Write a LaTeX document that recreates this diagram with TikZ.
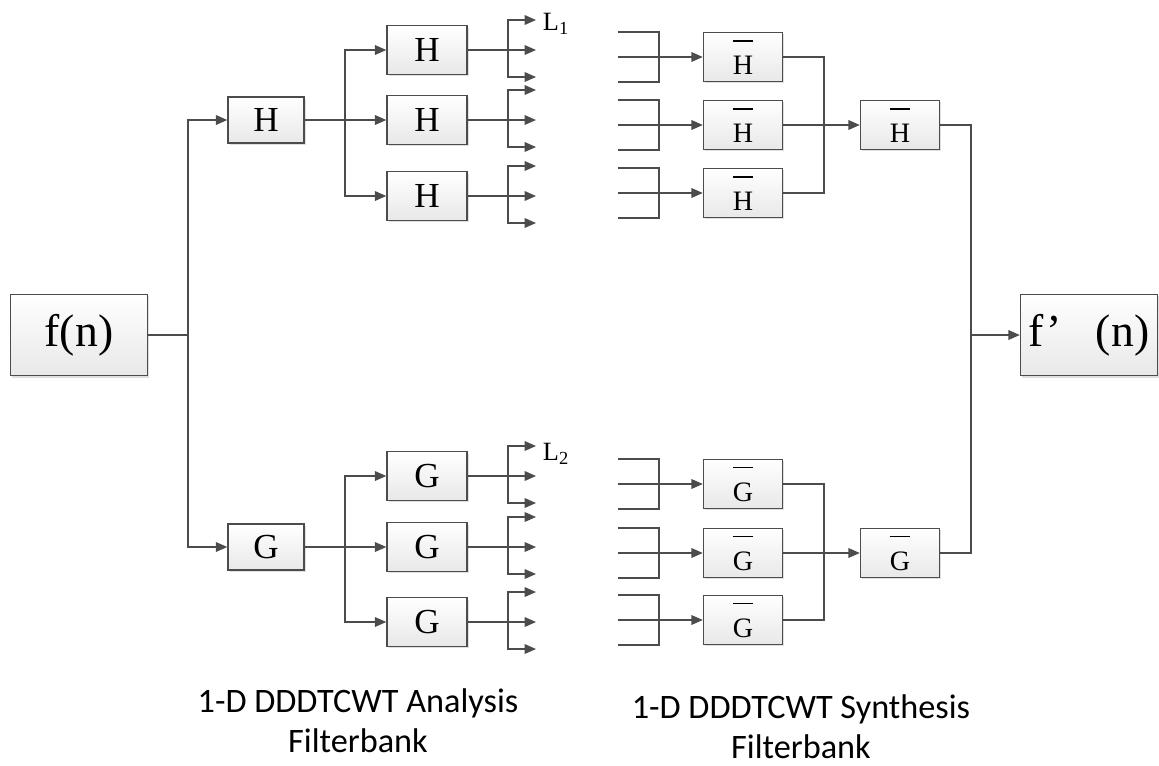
\documentclass[tikz,border=0pt]{standalone}
\usepackage{fontspec}
\setmainfont{Liberation Serif}
\newfontfamily\capfont{Carlito}
\usetikzlibrary{arrows.meta,shadows}
\newsavebox\barbox
\newcommand{\barred}[1]{\sbox\barbox{#1}\vbox{\hrule width\wd\barbox height 0.06em\kern0.5em\copy\barbox}}

\begin{document}
\begin{tikzpicture}[x=0.02cm, y=-0.02cm,
    >={Triangle[length=6.5pt,width=5.5pt]},
    wire/.style={draw=black!70, line width=0.8pt},
    blk/.style={draw=black!70, line width=0.8pt, top color=white, bottom color=black!9,
      drop shadow={shadow xshift=1pt, shadow yshift=-1pt, fill=black!25, opacity=0.5},
      inner sep=0pt, font=\fontsize{20}{20}\selectfont},
    sml/.style={blk, minimum width=1.52cm, minimum height=0.92cm},
    mid/.style={blk, minimum width=1.6cm, minimum height=0.97cm},
    bar/.style={blk, minimum width=1.58cm, minimum height=0.98cm, font=\fontsize{16}{16}\selectfont},
    big/.style={blk, minimum width=2.74cm, minimum height=1.63cm, font=\fontsize{26}{26}\selectfont},
    lbl/.style={font=\fontsize{15}{15}\selectfont},
    captxt/.style={font=\capfont\fontsize{19.5}{23}\selectfont, align=center}]
    \useasboundingbox (0,0) rectangle (1159,765);
    % input and output
    \node[big] (f) at (79,335) {f(n)};
    \node[big] (fp) at (1089,335) {f’\hspace{0.75em}(n)};
    % analysis side
    \node[sml] (h) at (266,120) {H};
    \node[sml] (g) at (266,547) {G};
    \node[mid] (h1) at (427,50) {H};
    \node[mid] (h2) at (427,120) {H};
    \node[mid] (h3) at (427,196) {H};
    \node[mid] (g1) at (427,476) {G};
    \node[mid] (g2) at (427,547) {G};
    \node[mid] (g3) at (427,622) {G};
    % synthesis side
    \node[bar] (hb1) at (743,57) {\barred{H}};
    \node[bar] (hb2) at (743,125) {\barred{H}};
    \node[bar] (hb3) at (743,193) {\barred{H}};
    \node[bar] (hbb) at (900,125) {\barred{H}};
    \node[bar] (gb1) at (743,484) {\barred{G}};
    \node[bar] (gb2) at (743,553) {\barred{G}};
    \node[bar] (gb3) at (743,620) {\barred{G}};
    \node[bar] (gbb) at (900,553) {\barred{G}};
    \node[lbl] (l1) at (556,24) {L\textsubscript{1}};
    \node[lbl] (l2) at (556,454) {L\textsubscript{2}};
    \node[captxt] (ana) at (358,721) {1-D DDDTCWT Analysis\\Filterbank};
    \node[captxt] (syn) at (801,727) {1-D DDDTCWT Synthesis\\Filterbank};
    % junction columns
    \coordinate (splitx) at (188,0);
    \coordinate (hx) at (345,0);
    \coordinate (fanx) at (508,0);
    \coordinate (sumx) at (824,0);
    \coordinate (outx) at (971,0);
    % wires
    \draw[wire] (f.east) -- (f.east -| splitx);
    \draw[wire,->] (f.east -| splitx) |- (h.west);
    \draw[wire,->] (f.east -| splitx) |- (g.west);
    \draw[wire,->] (h.east) -- (h2.west);
    \draw[wire,->] (h2.west -| hx) |- (h1.west);
    \draw[wire,->] (h2.west -| hx) |- (h3.west);
    \draw[wire,->] (g.east) -- (g2.west);
    \draw[wire,->] (g2.west -| hx) |- (g1.west);
    \draw[wire,->] (g2.west -| hx) |- (g3.west);
    \foreach \n in {h1,h2,h3,g1,g2,g3}{
        \coordinate (\n j) at (\n.east -| fanx);
        \path (\n j) ++(28,-30) coordinate (\n a)
              (\n j) ++(28,0) coordinate (\n b)
              (\n j) ++(28,27) coordinate (\n c);
        \draw[wire] (\n.east) -- (\n j);
        \draw[wire,->] (\n j) -- (\n b);
        \draw[wire,->] (\n j) |- (\n a);
        \draw[wire,->] (\n j) |- (\n c);
    }
    \foreach \n in {hb1,hb2,hb3,gb1,gb2,gb3}{
        \path (\n.west) ++(-85,-25) coordinate (\n a)
              (\n.west) ++(-85,0) coordinate (\n b)
              (\n.west) ++(-85,25) coordinate (\n c)
              (\n.west) ++(-44,-25) coordinate (\n p)
              (\n.west) ++(-44,25) coordinate (\n q);
        \draw[wire] (\n a) -- (\n p) -- (\n q) -- (\n c);
        \draw[wire,->] (\n b) -- (\n.west);
    }
    \draw[wire] (hb1.east) -| (hb3.east -| sumx) -- (hb3.east);
    \draw[wire,->] (hb2.east) -- (hbb.west);
    \draw[wire] (gb1.east) -| (gb3.east -| sumx) -- (gb3.east);
    \draw[wire,->] (gb2.east) -- (gbb.west);
    \draw[wire] (hbb.east) -| (gbb.east -| outx) -- (gbb.east);
    \draw[wire,->] (fp.west -| outx) -- (fp.west);
\end{tikzpicture}
\end{document}
